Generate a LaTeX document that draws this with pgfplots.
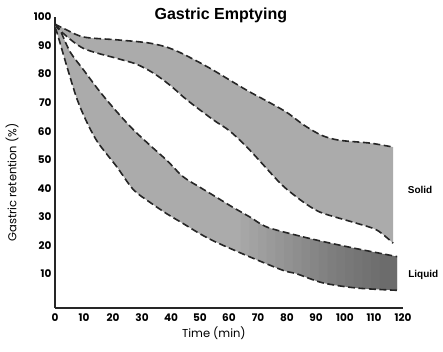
\documentclass[border=0pt]{standalone}
\usepackage{pgfplots}
\pgfplotsset{compat=1.18}
\usepgfplotslibrary{fillbetween}
\usepackage{fontspec}
\setmainfont{Poppins}
\newfontfamily\arialfont{Liberation Sans}
\begin{document}
\begin{tikzpicture}
\begin{axis}[
  scale only axis,
  width=348pt, height=291pt,
  xmin=0, xmax=120, ymin=-2, ymax=100,
  axis x line=bottom, axis y line=left,
  axis line style={-, line width=1.2pt, black!85},
  xtick={0,10,...,120}, ytick={10,20,...,100},
  major tick length=0pt,
  tick label style={font=\fontsize{10.5}{11}\selectfont\bfseries},
  /pgf/number format/assume math mode=true,
  xticklabel style={yshift=-2pt},
  clip=false,
  every axis plot/.append style={line width=1.6pt, dash pattern=on 7pt off 3.5pt, black!85},
]
\addplot[name path=SU, smooth] coordinates {
 (0,97.5) (3,96) (9.8,93) (21.3,92) (31.6,91) (38,89.6) (43,87.6) (49,84.5) (54.5,81.4) (66,74.4) (74,70) (80,66.5) (86,62) (92,58.5) (98,56.8) (108.6,55.8) (116.6,54.4)};
\addplot[name path=SL, smooth] coordinates {
 (0,97.5) (2,95) (9.8,89) (21.3,85.5) (28,83.5) (34,80.3) (40,75.8) (45.4,71) (54.5,64) (60.3,60) (67.2,53.3) (77.6,41.8) (83.3,36.9) (88,33.5) (92.4,31.2) (104,27.7) (111,25.3) (116.6,20.7)};
\addplot[name path=LU, smooth] coordinates {
 (0,97.5) (1.7,95.5) (5.2,87.8) (9.8,81.5) (15.5,73.8) (21.3,66.8) (27,60.5) (32.8,55) (38.5,49.8) (44.2,44) (50,40.3) (55.7,36.8) (61,33.5) (67.2,29.9) (73,26.4) (83.3,23.5) (92.4,21.3) (104,18.8) (118,16)};
\addplot[name path=LL, smooth] coordinates {
 (0,96) (0.6,94.8) (4,83) (7.5,71.5) (10.9,63.3) (14.8,56) (21.3,47.5) (27,39.5) (32.8,35) (38.6,31) (44.2,27.6) (50,24) (55.7,21) (67.2,15.9) (78.6,11.2) (83.3,10) (92.4,6.8) (104,5) (118,4.2)};
\addplot[solid, draw=none, fill=black!33] fill between[of=SU and SL];
\addplot[solid, draw=none, fill=black!33] fill between[of=LU and LL];
\pgfplotsinvokeforeach{64,67,...,112}{
\addplot[solid, draw=none, fill=black, fill opacity=0.025] fill between[of=LU and LL, soft clip={domain=#1:118}];
}
\node[font=\arialfont\fontsize{16}{18}\selectfont\bfseries] at (axis cs:57.2,100.7) {Gastric Emptying};
\node[font=\fontsize{11.5}{13}\selectfont, rotate=90] at (axis cs:-14.8,42) {Gastric retention (\%)};
\node[font=\fontsize{11.5}{13}\selectfont] at (axis cs:54.8,-11) {Time (min)};
\node[font=\arialfont\fontsize{10}{12}\selectfont\bfseries] at (axis cs:125.9,39.3) {Solid};
\node[font=\arialfont\fontsize{10}{12}\selectfont\bfseries] at (axis cs:127,9.5) {Liquid};
\end{axis}
\path (-55pt,-44pt) rectangle (388pt,308pt);
\end{tikzpicture}
\end{document}
